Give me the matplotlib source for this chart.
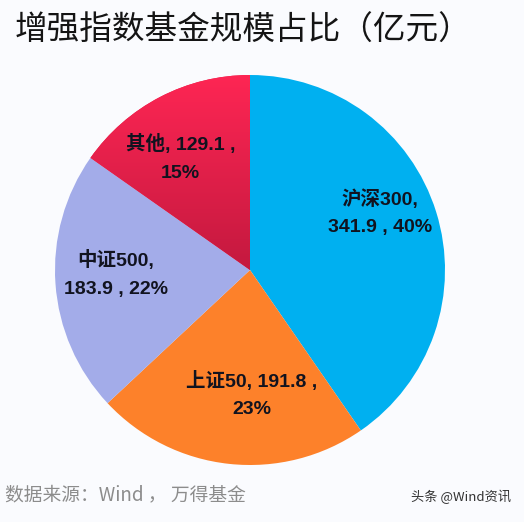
import numpy as np
import matplotlib.pyplot as plt
from matplotlib.colors import LinearSegmentedColormap

plt.rcParams['font.family'] = ['Liberation Sans', 'Noto Sans CJK SC', 'DejaVu Sans']

# data
names = ['沪深300', '上证50', '中证500', '其他']
values = [341.9, 191.8, 183.9, 129.1]
pcts = [40, 23, 22, 15]
label_txt = ['沪深300,\n341.9 , 40%', '上证50, 191.8 ,\n23%',
             '中证500,\n183.9 , 22%', '其他, 129.1 ,\n15%']
colors = ['#00B0F0', '#FD812A', '#A3ACE9', '#E41F4B']

fig = plt.figure(figsize=(5.24, 5.22), dpi=100, facecolor='#FAFBFE')
ax = fig.add_axes([55/524, 1-465/522, 390/524, 390/522])

wedges, _ = ax.pie(values, colors=colors, startangle=90, counterclock=False,
                   radius=1.0, wedgeprops=dict(linewidth=0))

# gradient on the red slice
cmap = LinearSegmentedColormap.from_list('red', ['#C4193F', '#FF2654'])
grad = np.linspace(0, 1, 256).reshape(-1, 1)
im = ax.imshow(grad, cmap=cmap, extent=[-1, 0.05, 0, 1.02], origin='lower',
               aspect='auto', zorder=wedges[3].get_zorder() + 0.1)
im.set_clip_path(wedges[3])

# labels near the mid angle of every wedge (excel "best fit" style shift)
dist = [0.73, 0.64, 0.69, 0.675]
shift = [6.4, 7.0, -2.2, 4.3]
for w, t, d, s in zip(wedges, label_txt, dist, shift):
    ang = np.deg2rad((w.theta1 + w.theta2) / 2 + s)
    ax.text(d*np.cos(ang), d*np.sin(ang), t, ha='center', va='center',
            fontsize=14, fontweight='bold', color='#11131F', linespacing=1.8,
            zorder=5)

ax.set_xlim(-1, 1)
ax.set_ylim(-1, 1)
ax.set_aspect('equal')
ax.axis('off')

fig.text(15/524, 1-31/522, '增强指数基金规模占比（亿元）', fontsize=23.5,
         color='#141414', ha='left', va='center',
         family=['Noto Sans CJK SC', 'DejaVu Sans'])
fig.text(5/524, 1-495/522, '数据来源：Wind ， 万得基金', fontsize=13.5,
         color='#8C8C8C', ha='left', va='center',
         family=['Noto Sans CJK SC', 'DejaVu Sans'])
fig.text(511/524, 1-497/522, '头条 @Wind资讯', fontsize=9.5,
         color='#333333', ha='right', va='center',
         family=['Noto Sans CJK SC', 'DejaVu Sans'])

fig.savefig('out.png', dpi=100, facecolor=fig.get_facecolor())
